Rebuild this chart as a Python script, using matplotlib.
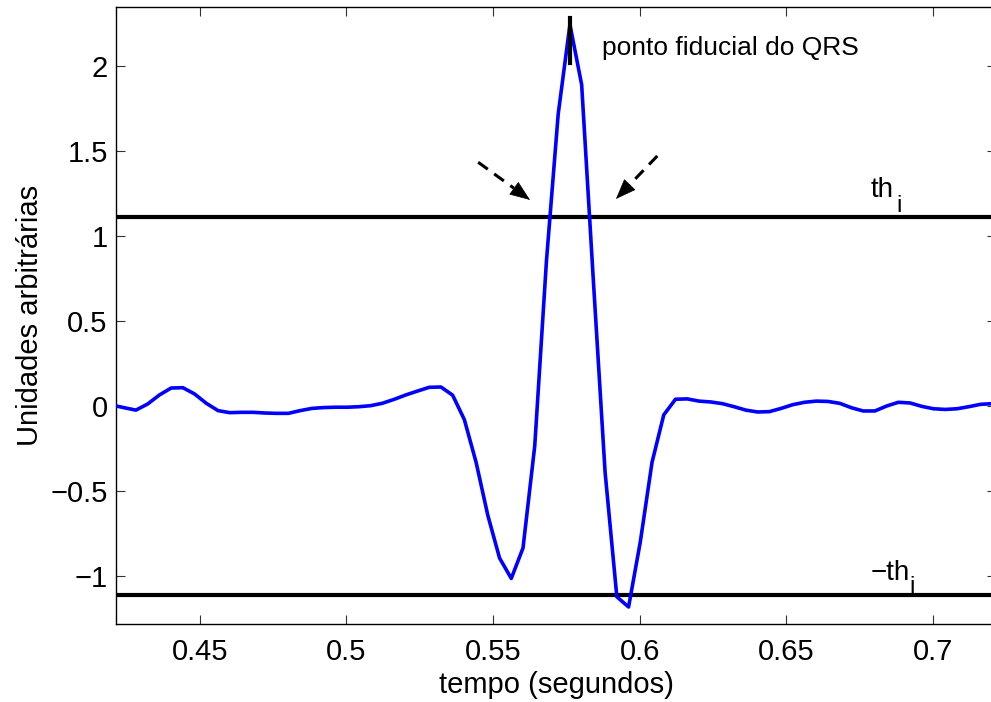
import matplotlib
matplotlib.use("Agg")
import numpy as np
import matplotlib.pyplot as plt

plt.rcParams["font.family"] = ["Liberation Sans", "DejaVu Sans"]

# sinal filtrado (amostras a 250 Hz)
tempo = [
    0.4202, 0.4242, 0.4282, 0.4322, 0.4362, 0.4402, 0.4442, 0.4482, 0.4522, 0.4562,
    0.4602, 0.4642, 0.4682, 0.4722, 0.4762, 0.4802, 0.4842, 0.4882, 0.4922, 0.4962,
    0.5002, 0.5042, 0.5082, 0.5122, 0.5162, 0.5202, 0.5242, 0.5282, 0.5322, 0.5362,
    0.5402, 0.5442, 0.5482, 0.5522, 0.5562, 0.5602, 0.5642, 0.5682, 0.5722, 0.5762,
    0.5802, 0.5842, 0.5882, 0.5922, 0.5962, 0.6002, 0.6042, 0.6082, 0.6122, 0.6162,
    0.6202, 0.6242, 0.6282, 0.6322, 0.6362, 0.6402, 0.6442, 0.6482, 0.6522, 0.6562,
    0.6602, 0.6642, 0.6682, 0.6722, 0.6762, 0.6802, 0.6842, 0.6882, 0.6922, 0.6962,
    0.7002, 0.7042, 0.7082, 0.7122, 0.7162, 0.7202, 0.7242,
]
sinal = [
    0.005, -0.010, -0.024, 0.012, 0.065, 0.106, 0.108, 0.071, 0.016, -0.027,
    -0.039, -0.037, -0.037, -0.041, -0.043, -0.043, -0.027, -0.014, -0.009, -0.007,
    -0.007, -0.004, 0.002, 0.016, 0.039, 0.065, 0.088, 0.110, 0.112, 0.064,
    -0.080, -0.331, -0.643, -0.894, -1.014, -0.835, -0.235, 0.855, 1.717, 2.244,
    1.890, 0.735, -0.391, -1.122, -1.182, -0.799, -0.331, -0.052, 0.040, 0.042,
    0.029, 0.024, 0.014, -0.004, -0.024, -0.035, -0.033, -0.014, 0.008, 0.022,
    0.029, 0.027, 0.016, -0.010, -0.029, -0.029, 0.000, 0.022, 0.018, -0.002,
    -0.016, -0.020, -0.016, -0.004, 0.010, 0.014, 0.015,
]

limiar = 1.112
fiducial_t = 0.5762
fiducial_y = [2.016, 2.281]

# setas tracejadas: (inicio, ponta)
setas = [
    ((0.5449, 1.434), (0.5626, 1.212)),
    ((0.6060, 1.471), (0.5919, 1.218)),
]

x_ticks = [0.45, 0.5, 0.55, 0.6, 0.65, 0.7]
x_ticklabels = ["0.45", "0.5", "0.55", "0.6", "0.65", "0.7"]
y_ticks = [-1, -0.5, 0, 0.5, 1, 1.5, 2]
y_ticklabels = ["\u22121", "\u22120.5", "0", "0.5", "1", "1.5", "2"]

fig = plt.figure(figsize=(9.91, 7.02), dpi=100)
ax = fig.add_axes([116 / 991, 78 / 702, 880 / 991, 617 / 702])
ax.set_xlim(0.4214, 0.7215)
ax.set_ylim(-1.282, 2.347)

ax.plot(tempo, sinal, color="#0000ff", lw=2.6, zorder=3)
ax.axhline(limiar, color="black", lw=3, zorder=2)
ax.axhline(-limiar, color="black", lw=3, zorder=2)
ax.plot([fiducial_t, fiducial_t], fiducial_y, color="black", lw=3, zorder=4)

# haste tracejada + ponta cheia
head_px = 20.0
for start, tip in setas:
    p0 = ax.transData.transform(start)
    p1 = ax.transData.transform(tip)
    d = (p1 - p0) / np.hypot(*(p1 - p0))
    base = ax.transData.inverted().transform(p1 - d * head_px)
    ax.plot([start[0], base[0]], [start[1], base[1]], color="black", lw=2.2,
            linestyle=(0, (3.9, 2.6)), solid_capstyle="butt")
    ax.annotate(
        "",
        xy=tip,
        xytext=base,
        arrowprops=dict(
            arrowstyle="-|>,head_length=1.35,head_width=0.52",
            color="black",
            lw=0.5,
            shrinkA=0,
            shrinkB=0,
            mutation_scale=10,
        ),
    )

ax.text(0.587, 2.065, "ponto fiducial do QRS", fontsize=19, va="baseline", ha="left")

# rótulos dos limiares (subscrito desenhado à parte)
ax.text(0.6788, 1.231, "th", fontsize=20, va="baseline", ha="left")
ax.text(0.6874, 1.143, "i", fontsize=17, va="baseline", ha="left")
ax.text(0.6786, -1.024, "\u2212th", fontsize=20, va="baseline", ha="left")
ax.text(0.6921, -1.101, "i", fontsize=17, va="baseline", ha="left")

ax.set_xticks(x_ticks)
ax.set_xticklabels(x_ticklabels)
ax.set_yticks(y_ticks)
ax.set_yticklabels(y_ticklabels)
ax.tick_params(direction="in", length=6.5, width=0.8, color="#333333",
               labelsize=21, top=True, right=True)
ax.tick_params(axis="x", pad=10)
ax.tick_params(axis="y", pad=6)
for sp in ax.spines.values():
    sp.set_linewidth(1.0)

ax.set_xlabel("tempo (segundos)", fontsize=21)
ax.set_ylabel("Unidades arbitrárias", fontsize=21)
ax.xaxis.set_label_coords(0.5, -0.076)
ax.yaxis.set_label_coords(-0.082, 0.5)

fig.savefig("out.png", dpi=100)
